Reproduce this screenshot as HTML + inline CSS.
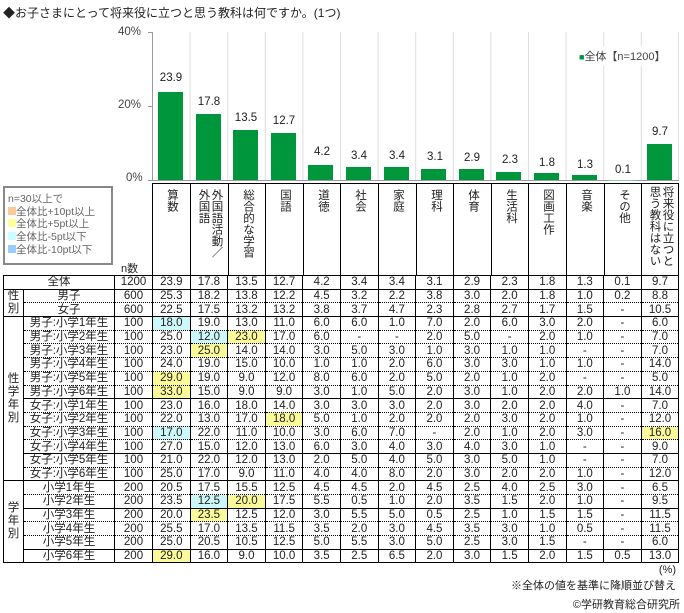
<!DOCTYPE html>
<html><head><meta charset="utf-8"><style>
*{margin:0;padding:0;box-sizing:border-box}
body{width:684px;height:613px;background:#fff;position:relative;overflow:hidden;font-family:"Liberation Sans","Noto Sans CJK JP",sans-serif;color:#222}
.a{position:absolute}
.bar{position:absolute;background:#00963c;width:25px}
.bl{position:absolute;width:38px;text-align:center;font-size:11.5px}
.hd{position:absolute;top:184px;height:92px;width:38px;border-left:1px solid #000}
.hd div{position:absolute;top:5px;left:50%;transform:translateX(-50%);writing-mode:vertical-rl;font-size:11.5px;line-height:13px;height:86px;white-space:normal}
table{position:absolute;left:3px;top:275px;border-collapse:collapse;table-layout:fixed;font-size:11.5px}
td{height:13.7px;padding:0;text-align:center;line-height:12px;border-left:1px solid #000;border-right:1px solid #000;white-space:nowrap}
tr.d td{border-bottom:1px dotted #000}
tr.s td{border-bottom:1px solid #000}
td.g{border-bottom:1px solid #000 !important;font-size:11.5px;line-height:13px}
.y{background:#fafa9a}.c{background:#cdf8fa}
</style></head><body>
<div class="a" style="left:3px;top:4px;font-size:12px">◆お子さまにとって将来役に立つと思う教科は何ですか。(1つ)</div>
<div class="a" style="left:118px;top:26px;font-size:11.5px;color:#444">40%</div>
<div class="a" style="left:118px;top:99px;font-size:11.5px;color:#444">20%</div>
<div class="a" style="left:126px;top:172px;font-size:11.5px;color:#444">0%</div>
<svg class="a" style="left:0;top:0" width="684" height="190">
<g stroke="#ddd" stroke-width="1">
<line x1="190.1" y1="32" x2="190.1" y2="180"/><line x1="227.7" y1="32" x2="227.7" y2="180"/><line x1="265.3" y1="32" x2="265.3" y2="180"/><line x1="302.9" y1="32" x2="302.9" y2="180"/><line x1="340.5" y1="32" x2="340.5" y2="180"/><line x1="378.1" y1="32" x2="378.1" y2="180"/><line x1="415.7" y1="32" x2="415.7" y2="180"/><line x1="453.3" y1="32" x2="453.3" y2="180"/><line x1="490.9" y1="32" x2="490.9" y2="180"/><line x1="528.5" y1="32" x2="528.5" y2="180"/><line x1="566.1" y1="32" x2="566.1" y2="180"/><line x1="603.7" y1="32" x2="603.7" y2="180"/><line x1="641.3" y1="32" x2="641.3" y2="180"/><line x1="678.5" y1="32" x2="678.5" y2="180"/>
</g>
<line x1="152.5" y1="32" x2="152.5" y2="180" stroke="#999"/>
<line x1="152" y1="180.5" x2="679" y2="180.5" stroke="#999"/>
<g stroke="#999"><line x1="148" y1="32.5" x2="152" y2="32.5"/><line x1="148" y1="106.5" x2="152" y2="106.5"/><line x1="148" y1="180.5" x2="152" y2="180.5"/></g>
</svg>
<div class="bar" style="left:158px;top:91.6px;height:88.4px"></div>
<div class="bar" style="left:196px;top:114.1px;height:65.9px"></div>
<div class="bar" style="left:233px;top:130px;height:50px"></div>
<div class="bar" style="left:271px;top:133px;height:47px"></div>
<div class="bar" style="left:308px;top:164.5px;height:15.5px"></div>
<div class="bar" style="left:346px;top:167.4px;height:12.6px"></div>
<div class="bar" style="left:384px;top:167.4px;height:12.6px"></div>
<div class="bar" style="left:421px;top:168.5px;height:11.5px"></div>
<div class="bar" style="left:459px;top:169.3px;height:10.7px"></div>
<div class="bar" style="left:496px;top:171.5px;height:8.5px"></div>
<div class="bar" style="left:534px;top:173.3px;height:6.7px"></div>
<div class="bar" style="left:572px;top:175.2px;height:4.8px"></div>
<div class="bar" style="left:609px;top:179.6px;height:0.6px;background:#8ccfa5"></div>
<div class="bar" style="left:647px;top:144.1px;height:35.9px"></div>
<div class="bl" style="left:152px;top:72px">23.9</div>
<div class="bl" style="left:190px;top:96px">17.8</div>
<div class="bl" style="left:227px;top:112px">13.5</div>
<div class="bl" style="left:265px;top:115px">12.7</div>
<div class="bl" style="left:303px;top:146px">4.2</div>
<div class="bl" style="left:340px;top:150px">3.4</div>
<div class="bl" style="left:378px;top:150px">3.4</div>
<div class="bl" style="left:416px;top:151px">3.1</div>
<div class="bl" style="left:453px;top:152px">2.9</div>
<div class="bl" style="left:491px;top:154px">2.3</div>
<div class="bl" style="left:528px;top:157px">1.8</div>
<div class="bl" style="left:566px;top:159px">1.3</div>
<div class="bl" style="left:604px;top:164px">0.1</div>
<div class="bl" style="left:641px;top:126px">9.7</div>
<div class="a" style="left:575px;top:46px;background:#fff;padding:2px 4px;font-size:11px;color:#444"><span style="color:#00963c;font-size:9px">■</span>全体【n=1200】</div>
<div class="a" style="left:3px;top:186px;width:110px;height:79px;border:2px solid #888;font-size:10.5px;color:#666;line-height:12.7px;padding:5px 0 0 3px">
n=30以上で<br>
<span style="background:#fbc99a;display:inline-block;width:8px;height:8px"></span>全体比+10pt以上<br>
<span style="background:#ffff99;display:inline-block;width:8px;height:8px"></span>全体比+5pt以上<br>
<span style="background:#ccffff;display:inline-block;width:8px;height:8px"></span>全体比-5pt以下<br>
<span style="background:#99ccff;display:inline-block;width:8px;height:8px"></span>全体比-10pt以下</div>
<div class="a" style="left:121px;top:260px;font-size:11px">n数</div>
<div class="a" style="left:152px;top:183px;width:527px;height:93px;border-top:1px solid #000;border-right:1px solid #000"></div>
<div class="hd" style="left:152px"><div>算数</div></div>
<div class="hd" style="left:190px"><div>外国語活動／<br>外国語</div></div>
<div class="hd" style="left:228px"><div>総合的な学習</div></div>
<div class="hd" style="left:265px"><div>国語</div></div>
<div class="hd" style="left:303px"><div>道徳</div></div>
<div class="hd" style="left:340px"><div>社会</div></div>
<div class="hd" style="left:378px"><div>家庭</div></div>
<div class="hd" style="left:416px"><div>理科</div></div>
<div class="hd" style="left:453px"><div>体育</div></div>
<div class="hd" style="left:491px"><div>生活科</div></div>
<div class="hd" style="left:528px"><div>図画工作</div></div>
<div class="hd" style="left:566px"><div>音楽</div></div>
<div class="hd" style="left:604px"><div>その他</div></div>
<div class="hd" style="left:641px"><div style="top:2px">将来役に立つと<br>思う教科はない</div></div>
<table>
<colgroup><col style="width:20px"><col style="width:91px"><col style="width:38px"><col span="14" style="width:37.6px"></colgroup>
<tr class="s"><td colspan="2" style="border-top:1px solid #000">全体</td><td style="border-top:1px solid #000">1200</td><td style="border-top:1px solid #000">23.9</td><td style="border-top:1px solid #000">17.8</td><td style="border-top:1px solid #000">13.5</td><td style="border-top:1px solid #000">12.7</td><td style="border-top:1px solid #000">4.2</td><td style="border-top:1px solid #000">3.4</td><td style="border-top:1px solid #000">3.4</td><td style="border-top:1px solid #000">3.1</td><td style="border-top:1px solid #000">2.9</td><td style="border-top:1px solid #000">2.3</td><td style="border-top:1px solid #000">1.8</td><td style="border-top:1px solid #000">1.3</td><td style="border-top:1px solid #000">0.1</td><td style="border-top:1px solid #000">9.7</td></tr>
<tr class="d"><td rowspan="2" class="g" style="white-space:normal">性<br>別</td><td>男子</td><td>600</td><td>25.3</td><td>18.2</td><td>13.8</td><td>12.2</td><td>4.5</td><td>3.2</td><td>2.2</td><td>3.8</td><td>3.0</td><td>2.0</td><td>1.8</td><td>1.0</td><td>0.2</td><td>8.8</td></tr>
<tr class="s"><td>女子</td><td>600</td><td>22.5</td><td>17.5</td><td>13.2</td><td>13.2</td><td>3.8</td><td>3.7</td><td>4.7</td><td>2.3</td><td>2.8</td><td>2.7</td><td>1.7</td><td>1.5</td><td>-</td><td>10.5</td></tr>
<tr class="d"><td rowspan="12" class="g" style="white-space:normal">性<br>学<br>年<br>別</td><td>男子:小学1年生</td><td>100</td><td class="c">18.0</td><td>19.0</td><td>13.0</td><td>11.0</td><td>6.0</td><td>6.0</td><td>1.0</td><td>7.0</td><td>2.0</td><td>6.0</td><td>3.0</td><td>2.0</td><td>-</td><td>6.0</td></tr>
<tr class="d"><td>男子:小学2年生</td><td>100</td><td>25.0</td><td class="c">12.0</td><td class="y">23.0</td><td>17.0</td><td>6.0</td><td>-</td><td>-</td><td>2.0</td><td>5.0</td><td>-</td><td>2.0</td><td>1.0</td><td>-</td><td>7.0</td></tr>
<tr class="d"><td>男子:小学3年生</td><td>100</td><td>23.0</td><td class="y">25.0</td><td>14.0</td><td>14.0</td><td>3.0</td><td>5.0</td><td>3.0</td><td>1.0</td><td>3.0</td><td>1.0</td><td>1.0</td><td>-</td><td>-</td><td>7.0</td></tr>
<tr class="d"><td>男子:小学4年生</td><td>100</td><td>24.0</td><td>19.0</td><td>15.0</td><td>10.0</td><td>1.0</td><td>1.0</td><td>2.0</td><td>6.0</td><td>3.0</td><td>3.0</td><td>1.0</td><td>1.0</td><td>-</td><td>14.0</td></tr>
<tr class="d"><td>男子:小学5年生</td><td>100</td><td class="y">29.0</td><td>19.0</td><td>9.0</td><td>12.0</td><td>8.0</td><td>6.0</td><td>2.0</td><td>5.0</td><td>2.0</td><td>1.0</td><td>2.0</td><td>-</td><td>-</td><td>5.0</td></tr>
<tr class="s"><td>男子:小学6年生</td><td>100</td><td class="y">33.0</td><td>15.0</td><td>9.0</td><td>9.0</td><td>3.0</td><td>1.0</td><td>5.0</td><td>2.0</td><td>3.0</td><td>1.0</td><td>2.0</td><td>2.0</td><td>1.0</td><td>14.0</td></tr>
<tr class="d"><td>女子:小学1年生</td><td>100</td><td>23.0</td><td>16.0</td><td>18.0</td><td>14.0</td><td>3.0</td><td>3.0</td><td>3.0</td><td>2.0</td><td>3.0</td><td>2.0</td><td>2.0</td><td>4.0</td><td>-</td><td>7.0</td></tr>
<tr class="d"><td>女子:小学2年生</td><td>100</td><td>22.0</td><td>13.0</td><td>17.0</td><td class="y">18.0</td><td>5.0</td><td>1.0</td><td>2.0</td><td>2.0</td><td>2.0</td><td>3.0</td><td>2.0</td><td>1.0</td><td>-</td><td>12.0</td></tr>
<tr class="d"><td>女子:小学3年生</td><td>100</td><td class="c">17.0</td><td>22.0</td><td>11.0</td><td>10.0</td><td>3.0</td><td>6.0</td><td>7.0</td><td>-</td><td>2.0</td><td>1.0</td><td>2.0</td><td>3.0</td><td>-</td><td class="y">16.0</td></tr>
<tr class="s"><td>女子:小学4年生</td><td>100</td><td>27.0</td><td>15.0</td><td>12.0</td><td>13.0</td><td>6.0</td><td>3.0</td><td>4.0</td><td>3.0</td><td>4.0</td><td>3.0</td><td>1.0</td><td>-</td><td>-</td><td>9.0</td></tr>
<tr class="d"><td>女子:小学5年生</td><td>100</td><td>21.0</td><td>22.0</td><td>12.0</td><td>13.0</td><td>2.0</td><td>5.0</td><td>4.0</td><td>5.0</td><td>3.0</td><td>5.0</td><td>1.0</td><td>-</td><td>-</td><td>7.0</td></tr>
<tr class="s"><td>女子:小学6年生</td><td>100</td><td>25.0</td><td>17.0</td><td>9.0</td><td>11.0</td><td>4.0</td><td>4.0</td><td>8.0</td><td>2.0</td><td>3.0</td><td>2.0</td><td>2.0</td><td>1.0</td><td>-</td><td>12.0</td></tr>
<tr class="d"><td rowspan="6" class="g" style="white-space:normal">学<br>年<br>別</td><td>小学1年生</td><td>200</td><td>20.5</td><td>17.5</td><td>15.5</td><td>12.5</td><td>4.5</td><td>4.5</td><td>2.0</td><td>4.5</td><td>2.5</td><td>4.0</td><td>2.5</td><td>3.0</td><td>-</td><td>6.5</td></tr>
<tr class="s"><td>小学2年生</td><td>200</td><td>23.5</td><td class="c">12.5</td><td class="y">20.0</td><td>17.5</td><td>5.5</td><td>0.5</td><td>1.0</td><td>2.0</td><td>3.5</td><td>1.5</td><td>2.0</td><td>1.0</td><td>-</td><td>9.5</td></tr>
<tr class="d"><td>小学3年生</td><td>200</td><td>20.0</td><td class="y">23.5</td><td>12.5</td><td>12.0</td><td>3.0</td><td>5.5</td><td>5.0</td><td>0.5</td><td>2.5</td><td>1.0</td><td>1.5</td><td>1.5</td><td>-</td><td>11.5</td></tr>
<tr class="d"><td>小学4年生</td><td>200</td><td>25.5</td><td>17.0</td><td>13.5</td><td>11.5</td><td>3.5</td><td>2.0</td><td>3.0</td><td>4.5</td><td>3.5</td><td>3.0</td><td>1.0</td><td>0.5</td><td>-</td><td>11.5</td></tr>
<tr class="s"><td>小学5年生</td><td>200</td><td>25.0</td><td>20.5</td><td>10.5</td><td>12.5</td><td>5.0</td><td>5.5</td><td>3.0</td><td>5.0</td><td>2.5</td><td>3.0</td><td>1.5</td><td>-</td><td>-</td><td>6.0</td></tr>
<tr class="s"><td>小学6年生</td><td>200</td><td class="y">29.0</td><td>16.0</td><td>9.0</td><td>10.0</td><td>3.5</td><td>2.5</td><td>6.5</td><td>2.0</td><td>3.0</td><td>1.5</td><td>2.0</td><td>1.5</td><td>0.5</td><td>13.0</td></tr>
</table>
<div class="a" style="right:8px;top:564px;font-size:11px">(%)</div>
<div class="a" style="right:8px;top:577px;font-size:11px">※全体の値を基準に降順並び替え</div>
<div class="a" style="right:4px;top:596px;font-size:11px">©学研教育総合研究所</div>
</body></html>
